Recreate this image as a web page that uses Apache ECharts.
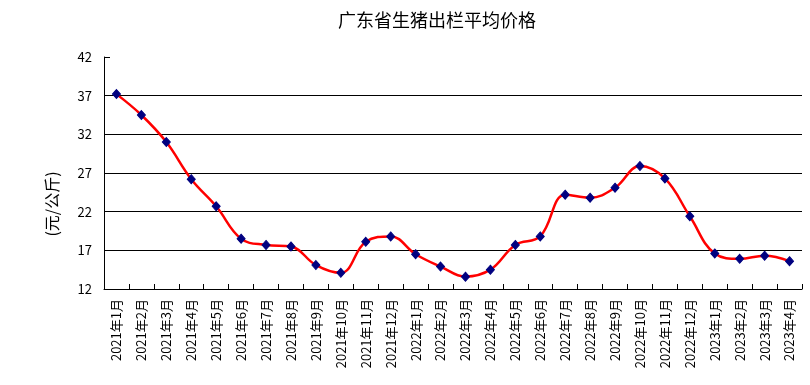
<!DOCTYPE html>
<html>
<head>
<meta charset="utf-8">
<script src="https://cdn.jsdelivr.net/npm/echarts@6/dist/echarts.min.js"></script>
<style>html,body{margin:0;padding:0;background:#fff;}#c{width:810px;height:385px;}</style>
</head>
<body>
<div id="c"></div>
<script>
var categories = ['2021年1月','2021年2月','2021年3月','2021年4月','2021年5月','2021年6月','2021年7月','2021年8月','2021年9月','2021年10月','2021年11月','2021年12月','2022年1月','2022年2月','2022年3月','2022年4月','2022年5月','2022年6月','2022年7月','2022年8月','2022年9月','2022年10月','2022年11月','2022年12月','2023年1月','2023年2月','2023年3月','2023年4月'];
var prices = [37.2,34.5,31.0,26.2,22.7,18.5,17.7,17.5,15.1,14.1,18.1,18.8,16.5,14.9,13.6,14.5,17.7,18.8,24.2,23.8,25.1,27.9,26.3,21.4,16.6,15.9,16.3,15.6];
var yMin = 12, yMax = 42, yStep = 5;
var titleText = '广东省生猪出栏平均价格';
var yName = '(元/公斤)';

var font = '"Noto Sans CJK SC", "Liberation Sans", sans-serif';
var chart = echarts.init(document.getElementById('c'), null, {renderer: 'canvas'});
chart.setOption({
  animation: false,
  backgroundColor: '#fff',
  title: {
    text: titleText,
    left: 432, top: 6, textAlign: 'center',
    textStyle: {fontFamily: font, fontSize: 18, fontWeight: 'normal', color: '#000'}
  },
  grid: {left: 104, right: 8, top: 57, bottom: 96, containLabel: false},
  graphic: [{
    type: 'text',
    rotation: Math.PI / 2,
    style: {text: yName, font: '16px ' + font, fill: '#000', textAlign: 'center', textVerticalAlign: 'middle'},
    x: 52, y: 204
  }],
  xAxis: {
    type: 'category',
    data: categories,
    boundaryGap: true,
    axisLine: {lineStyle: {color: '#000', width: 1}},
    axisTick: {show: true, inside: true, length: 5, alignWithLabel: false, lineStyle: {color: '#000'}},
    axisLabel: {rotate: 90, interval: 0, margin: 10, fontFamily: font, fontSize: 13, color: '#000'}
  },
  yAxis: {
    type: 'value',
    min: yMin, max: yMax, interval: yStep,
    axisLine: {show: true, lineStyle: {color: '#000', width: 1}},
    axisTick: {show: true, inside: true, length: 6, lineStyle: {color: '#000'}},
    axisLabel: {margin: 12, fontFamily: font, fontSize: 13, color: '#000'},
    splitLine: {show: true, showMaxLine: false, lineStyle: {color: '#000', width: 1}}
  },
  series: [{
    type: 'line',
    data: prices,
    smooth: 0.4,
    symbol: 'diamond',
    symbolSize: [8, 9],
    lineStyle: {color: '#ff0000', width: 2.5},
    itemStyle: {color: '#000080', borderColor: '#000080'},
    z: 3
  }]
});
</script>
</body>
</html>
